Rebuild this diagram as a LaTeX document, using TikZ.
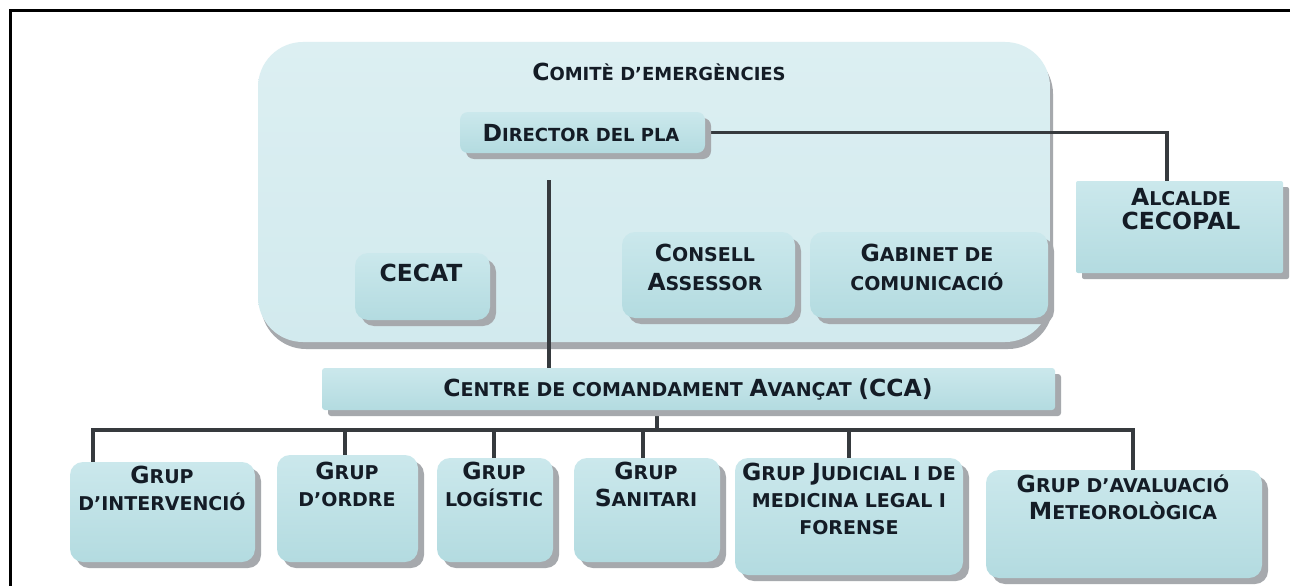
\documentclass[tikz,border=0pt]{standalone}
\usepackage{fontspec}
\setmainfont{DejaVu Sans}
\usetikzlibrary{shadows}

\definecolor{boxA}{HTML}{CBE8EC}
\definecolor{boxB}{HTML}{B3DBE0}
\definecolor{bigA}{HTML}{DCEFF2}
\definecolor{bigB}{HTML}{D2EAEE}
\definecolor{shadowc}{HTML}{A6A9AD}
\definecolor{linec}{HTML}{363A3E}
\definecolor{txtc}{HTML}{141C26}

\newcommand\Bg[1]{{\fontsize{23.5}{27}\selectfont #1}}

\pgfdeclarelayer{back}
\pgfdeclarelayer{mid}
\pgfsetlayers{back,mid,main}

\begin{document}
\begin{tikzpicture}[x=1pt,y=-1pt,
  box/.style={draw=none, top color=boxA, bottom color=boxB, rounded corners=13pt, inner sep=0pt,
    drop shadow={shadow xshift=6pt, shadow yshift=-6pt, fill=shadowc, opacity=1}},
  bigbox/.style={draw=none, top color=bigA, bottom color=bigB, rounded corners=45pt, inner sep=0pt,
    drop shadow={shadow xshift=3pt, shadow yshift=-7pt, fill=shadowc, opacity=1}},
  lbl/.style={align=center, text=txtc, font=\bfseries\fontsize{19}{27}\selectfont, inner sep=0pt},
  conn/.style={draw=linec, line width=3.5pt},
  frame/.style={draw=black, line width=3pt},
]
\useasboundingbox (0,0) rectangle (1290,586);
\begin{pgfonlayer}{back}
\fill[white] (0,0) rectangle (1290,586);
\draw[frame] (10.5,600) -- (10.5,10.5) -- (1300,10.5);
% committee container
\node[bigbox, minimum width=792, minimum height=300] (comite) at (654,192) {};
\end{pgfonlayer}

% coordinates for connectors
\coordinate (alcT) at (1167,181);
\coordinate (vtop) at (549,180);
\coordinate (bus) at (657,430);
\coordinate (b1) at (93,430);
\coordinate (b2) at (345,430);
\coordinate (b3) at (494,430);
\coordinate (b4) at (643,430);
\coordinate (b5) at (849,430);
\coordinate (b6) at (1133,430);

% boxes
\node[box, rounded corners=8pt, minimum width=245, minimum height=41] (dir) at (582.5,132.5) {};
\node[box, rounded corners=2pt, minimum width=207, minimum height=92] (alc) at (1179.5,227) {};
\node[box, minimum width=135, minimum height=67] (cecat) at (422.5,286.5) {};
\node[box, minimum width=173, minimum height=86] (cons) at (708.5,275) {};
\node[box, minimum width=238, minimum height=86] (gab) at (929,275) {};
\node[box, rounded corners=3pt, minimum width=733, minimum height=42] (cca) at (688.5,389) {};
\node[box, minimum width=185, minimum height=100] (g1) at (162.5,512) {};
\node[box, minimum width=141, minimum height=107] (g2) at (347.5,508.5) {};
\node[box, minimum width=116, minimum height=104] (g3) at (495,510) {};
\node[box, minimum width=146, minimum height=104] (g4) at (647,510) {};
\node[box, minimum width=228, minimum height=117] (g5) at (849,516.5) {};
\node[box, minimum width=276, minimum height=108] (g6) at (1124,524) {};

% connectors
\begin{pgfonlayer}{mid}
\draw[conn] (dir.east) -| (alcT);
\draw[conn] (vtop) -- (vtop |- cca.north);
\draw[conn] (cca.south -| bus) -- (bus);
\draw[conn] (b1 |- g1.north) -- (b1) -- (b6) -- (b6 |- g6.north);
\draw[conn] (b2) -- (b2 |- g2.north);
\draw[conn] (b3) -- (b3 |- g3.north);
\draw[conn] (b4) -- (b4 |- g4.north);
\draw[conn] (b5) -- (b5 |- g5.north);
\end{pgfonlayer}

% labels
\node[lbl, font=\bfseries\fontsize{18}{27}\selectfont] (tcomite) at (659,72) {\Bg{C}OMITÈ D’EMERGÈNCIES};
\node[lbl, font=\bfseries\fontsize{18}{27}\selectfont] (tdir) at (581,133) {\Bg{D}IRECTOR DEL PLA};
\node[lbl, font=\bfseries\fontsize{19}{24}\selectfont] (talc) at (1181,209) {\Bg{A}LCALDE\\\Bg{CECOPAL}};
\node[lbl] (tcecat) at (421,273) {\Bg{CECAT}};
\node[lbl, font=\bfseries\fontsize{19}{29}\selectfont] (tcons) at (705,267) {\Bg{C}ONSELL\\\Bg{A}SSESSOR};
\node[lbl, font=\bfseries\fontsize{19}{29}\selectfont] (tgab) at (927,267) {\Bg{G}ABINET DE\\COMUNICACIÓ};
\node[lbl] (tcca) at (688,389) {\Bg{C}ENTRE DE COMANDAMENT \Bg{A}VANÇAT \Bg{(CCA)}};
\node[lbl] (tg1) at (162,488) {\Bg{G}RUP\\D’INTERVENCIÓ};
\node[lbl] (tg2) at (347,484) {\Bg{G}RUP\\D’ORDRE};
\node[lbl] (tg3) at (494,484) {\Bg{G}RUP\\LOGÍSTIC};
\node[lbl] (tg4) at (646,484) {\Bg{G}RUP\\\Bg{S}ANITARI};
\node[lbl] (tg5) at (849,499) {\Bg{G}RUP \Bg{J}UDICIAL I DE\\MEDICINA LEGAL I\\FORENSE};
\node[lbl] (tg6) at (1123,497) {\Bg{G}RUP D’AVALUACIÓ\\\Bg{M}ETEOROLÒGICA};
\end{tikzpicture}
\end{document}
